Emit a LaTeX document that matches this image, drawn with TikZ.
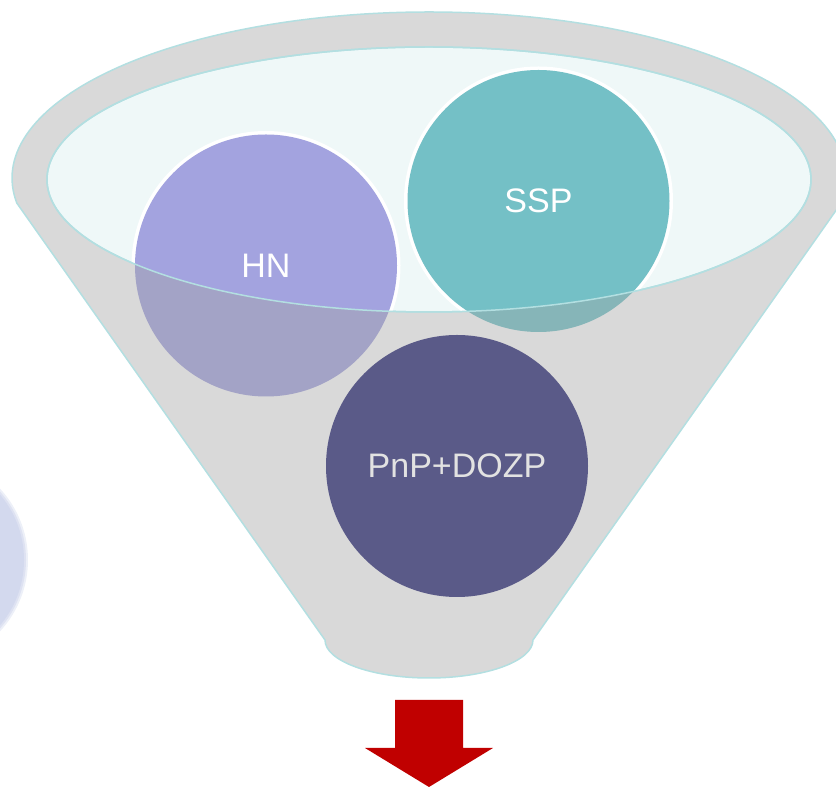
\documentclass[tikz,border=0pt]{standalone}
\usepackage{fontspec}
\setmainfont{Liberation Sans}

\definecolor{funnelgray}{HTML}{D9D9D9}
\definecolor{funnelrim}{HTML}{B3DFE1}
\definecolor{funneltop}{HTML}{EFF8F8}
\definecolor{hncol}{HTML}{A3A3DF}
\definecolor{hnlow}{HTML}{A3A3C6}
\definecolor{sspcol}{HTML}{74C0C6}
\definecolor{ssplow}{HTML}{86B5B8}
\definecolor{pnpcol}{HTML}{5A5A88}
\definecolor{pnptext}{HTML}{E2E2E2}
\definecolor{ghost}{HTML}{D3D9EE}
\definecolor{arrowred}{HTML}{C00000}

\begin{document}
\begin{tikzpicture}[x=1pt,y=1pt,
    rim/.style={draw=funnelrim,line width=1.5pt},
    ball/.style={circle,minimum size=262pt,inner sep=0pt,
        font=\fontsize{34}{40}\selectfont,text=white}]

    \useasboundingbox (0,0) rectangle (836,787);
    \clip (0,0) rectangle (836,787);

    % faded ball on the left
    \fill[ghost!40] (-77,227) circle (105);
    \fill[ghost!75] (-77,227) circle (103);
    \fill[ghost] (-77,227) circle (101);

    % funnel body
    \filldraw[fill=funnelgray,rim]
        (841.2,583.9) arc[start angle=-8.7,end angle=188.7,x radius=417,y radius=166]
        -- (325,147) arc[start angle=180,end angle=360,x radius=104,y radius=38]
        -- cycle;

    % mouth
    \filldraw[fill=funneltop,rim] (429,607.5) ellipse[x radius=382,y radius=132.5];

    %%%%%%%%%%%%%%%%%%%%%%%%%%%%%%%%%%%
    % HN and SSP, greyed below the mouth
    \coordinate (hnc) at (266,521.5);
    \coordinate (sspc) at (538.5,586);
    \fill[hnlow] (hnc) circle (131);
    \fill[ssplow] (sspc) circle (131);
    \begin{scope}
        \clip (429,607.5) ellipse[x radius=382,y radius=132.5];
        \fill[white] (hnc) circle (134.5);
        \fill[hncol] (hnc) circle (131);
        \fill[white] (sspc) circle (134.5);
        \fill[sspcol] (sspc) circle (131);
    \end{scope}
    \draw[rim] (429,607.5) ellipse[x radius=382,y radius=132.5];
    \node[ball] (hn) at (hnc) {HN};
    \node[ball] (ssp) at (sspc) {SSP};
    %%%%%%%%%%%%%%%%%%%%%%%%%%%%%%%%%%%

    % PnP+DOZP
    \node[ball,fill=pnpcol,text=pnptext] (pnp) at (457,321) {PnP+DOZP};

    % red arrow
    \fill[arrowred] (395,87) -- (463,87) -- (463,39) -- (493,39)
        -- (429,0) -- (365,39) -- (395,39) -- cycle;

\end{tikzpicture}
\end{document}
